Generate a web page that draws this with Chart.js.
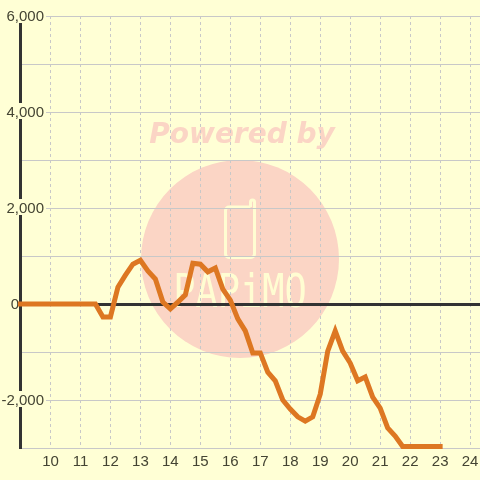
<!DOCTYPE html>
<html>
<head>
<meta charset="utf-8">
<style>
  html, body { margin: 0; padding: 0; background: #ffffd5; }
  #wrap { position: relative; width: 480px; height: 480px; }
</style>
<script src="https://cdn.jsdelivr.net/npm/chart.js@4/dist/chart.umd.min.js"></script>
</head>
<body>
<div id="wrap"><canvas id="pvChart"></canvas></div>
<script>
const startHour = [9, 9.25, 9.5, 9.75, 10, 10.25, 10.5, 10.75, 11, 11.25, 11.5];
const hours = [11.75, 12, 12.25, 12.5, 12.75, 13, 13.25, 13.5, 13.75, 14, 14.25, 14.5, 14.75, 15, 15.25, 15.5,
    15.75, 16, 16.25, 16.5, 16.75, 17, 17.25, 17.5, 17.75, 18, 18.25, 18.5, 18.75, 19, 19.25, 19.5,
    19.75, 20, 20.25, 20.5, 20.75, 21, 21.25, 21.5, 21.75, 22, 22.25, 22.5, 22.75, 23];
const startValues = [0, 0, 0, 0, 0, 0, 0, 0, 0, 0, 0];
const values = [-270, -270, 350, 600, 830, 910, 690, 520, 40, -100, 40, 190, 850, 830, 670, 750,
    310, 80, -310, -560, -1020, -1020, -1420, -1600, -2000, -2190, -2350, -2440, -2350, -1880, -980, -560,
    -980, -1230, -1600, -1520, -1940, -2170, -2580, -2750, -2970, -2970, -2970, -2970, -2970, -2970];

const lineColor = '#dd7722';
const textColor = '#444433';
const gridColor = '#c8c8c8';
const backColor = '#ffffd5';
const markColor = '#fbd5c5';
const logoColor = '#fffdd2';

// Watermark sits under the grid
const Watermark = {
    id: 'watermark',
    beforeDraw(chart) {
        const ctx = chart.ctx;
        ctx.save();
        ctx.fillStyle = markColor;
        ctx.beginPath();
        ctx.arc(240, 259, 99, 0, Math.PI * 2);
        ctx.fill();
        ctx.font = 'italic bold 28px "DejaVu Sans"';
        ctx.textAlign = 'center';
        ctx.textBaseline = 'middle';
        ctx.fillText('Powered by', 242, 136);
        // phone outline of the logo
        ctx.strokeStyle = logoColor;
        ctx.lineWidth = 3;
        ctx.lineJoin = 'round';
        ctx.beginPath();
        ctx.moveTo(250.5, 207);
        ctx.lineTo(229, 207);
        ctx.arcTo(225.5, 207, 225.5, 211, 3.5);
        ctx.lineTo(225.5, 254);
        ctx.arcTo(225.5, 257.5, 229, 257.5, 3.5);
        ctx.lineTo(251, 257.5);
        ctx.arcTo(254.5, 257.5, 254.5, 254, 3.5);
        ctx.lineTo(254.5, 202);
        ctx.arc(252.5, 202, 2, 0, Math.PI, true);
        ctx.lineTo(250.5, 207);
        ctx.stroke();
        // logotype
        ctx.fillStyle = logoColor;
        ctx.translate(240, 295);
        ctx.scale(1, 1.25);
        ctx.font = '37px "DejaVu Sans Mono"';
        ctx.fillText('PAPiMO', 0, 0);
        ctx.restore();
    }
};

// y labels: a blank first line of 2px nudges the text 1px down; spaces pad the 0 left of the axis
function yLabel(v) {
    if (v % 2000 !== 0) return '';
    if (v === 0) return ['', '0      '];
    return ['', v.toLocaleString('en-US')];
}

new Chart(document.getElementById('pvChart'), {
    type: 'line',
    data: {
        datasets: [{
            data: startHour.concat(hours).map((h, i) => ({ x: h, y: startValues.concat(values)[i] })),
            borderColor: lineColor,
            borderWidth: 5,
            borderCapStyle: 'square',
            borderJoinStyle: 'miter',
            pointRadius: 0,
            tension: 0,
            clip: false
        }]
    },
    plugins: [Watermark],
    options: {
        responsive: true,
        maintainAspectRatio: false,
        animation: false,
        layout: {
            autoPadding: false,
            padding: { top: 16 }
        },
        plugins: {
            legend: { display: false },
            tooltip: { enabled: false }
        },
        scales: {
            x: {
                type: 'linear',
                min: 9,
                max: 24.33,
                afterFit(scale) {
                    scale.height = 32;
                    scale.paddingLeft = 0;
                    scale.paddingRight = 0;
                },
                grid: {
                    color: gridColor,
                    lineWidth: 1,
                    drawTicks: false
                },
                border: { display: false, dash: [3, 3] },
                ticks: {
                    stepSize: 1,
                    includeBounds: false,
                    autoSkip: false,
                    maxRotation: 0,
                    padding: 6,
                    color: textColor,
                    font: { family: '"Liberation Sans"', size: 15, lineHeight: 1 },
                    callback: v => (v === 9 ? '' : String(v))
                }
            },
            y: {
                min: -3000,
                max: 6000,
                afterFit(scale) {
                    scale.width = 20.5;
                    scale.paddingTop = 0;
                    scale.paddingBottom = 0;
                },
                grid: {
                    drawTicks: false,
                    color: c => (c.tick.value === 0 ? '#333333' : gridColor),
                    lineWidth: c => (c.tick.value === 0 ? 3 : 1)
                },
                border: { color: '#333333', width: 3 },
                ticks: {
                    stepSize: 1000,
                    mirror: true,
                    crossAlign: 'far',
                    padding: -19,
                    color: textColor,
                    font: { family: '"Liberation Sans"', size: 15, lineHeight: '2px' },
                    showLabelBackdrop: c => c.tick.value % 2000 === 0 && c.tick.value !== 0,
                    backdropColor: backColor,
                    backdropPadding: { x: 2, y: 6 },
                    callback: yLabel
                }
            }
        }
    }
});
</script>
</body>
</html>
